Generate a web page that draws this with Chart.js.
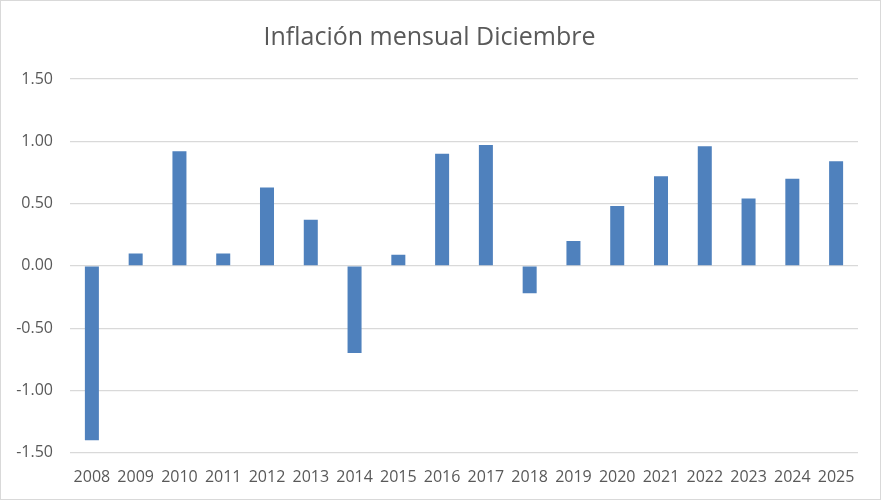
<!DOCTYPE html>
<html>
<head>
<meta charset="utf-8">
<script src="https://cdn.jsdelivr.net/npm/chart.js@4.4.1/dist/chart.umd.min.js"></script>
<style>
  html, body { margin: 0; padding: 0; background: #fff; }
  #wrap { width: 881px; height: 500px; box-sizing: border-box; border: 1px solid #d9d9d9; position: relative; }
  canvas { display: block; }
</style>
</head>
<body>
<div id="wrap"><canvas id="c"></canvas></div>
<script>
const categories = ["2008","2009","2010","2011","2012","2013","2014","2015","2016","2017","2018","2019","2020","2021","2022","2023","2024","2025"];
const inflation = [-1.40, 0.10, 0.92, 0.10, 0.63, 0.37, -0.70, 0.09, 0.90, 0.97, -0.22, 0.20, 0.48, 0.72, 0.96, 0.54, 0.70, 0.84];
const yTicks = [-1.5, -1.0, -0.5, 0.0, 0.5, 1.0, 1.5];
const titleText = "Inflación mensual Diciembre";

const FONT = "'Open Sans', 'Liberation Sans', sans-serif";
new Chart(document.getElementById('c'), {
  type: 'bar',
  data: {
    labels: categories,
    datasets: [{
      data: inflation,
      backgroundColor: '#4f81bd',
      borderWidth: 0,
      barPercentage: 0.32,
      categoryPercentage: 1.0
    }]
  },
  options: {
    responsive: true,
    maintainAspectRatio: false,
    animation: false,
    layout: { padding: { left: 0, right: 22, top: 0, bottom: 5 } },
    plugins: {
      legend: { display: false },
      tooltip: { enabled: false },
      title: {
        display: true,
        text: titleText,
        color: '#595959',
        font: { family: FONT, size: 25, weight: 'normal' },
        padding: { top: 22, bottom: 26 }
      }
    },
    scales: {
      x: {
        grid: { display: false },
        border: { display: false },
        ticks: { color: '#595959', font: { family: FONT, size: 16 }, padding: 7, maxRotation: 0, autoSkip: false }
      },
      y: {
        min: yTicks[0],
        max: yTicks[yTicks.length - 1],
        afterBuildTicks: (scale) => { scale.ticks = yTicks.map(v => ({ value: v })); },
        afterFit: (scale) => { scale.width = 69; },
        grid: { color: '#d9d9d9', lineWidth: 1.3, drawTicks: false },
        border: { display: false },
        ticks: {
          color: '#595959',
          font: { family: FONT, size: 16 },
          padding: 17,
          callback: (v) => Number(v).toFixed(2)
        }
      }
    }
  }
});
</script>
</body>
</html>
